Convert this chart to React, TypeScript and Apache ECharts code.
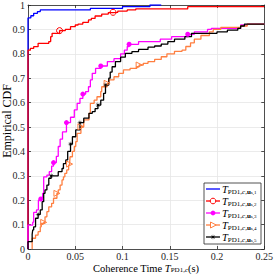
import React, { useEffect, useRef } from "react";
import * as echarts from "echarts";

const xTicks = [0, 0.05, 0.1, 0.15, 0.2, 0.25];
const yTicks = [0, 0.1, 0.2, 0.3, 0.4, 0.5, 0.6, 0.7, 0.8, 0.9, 1];

const seriesNames = ["u1", "u2", "u3", "u4", "u5"];
const legendIdx = ["1", "2", "3", "4", "5"];

// Series 1 (blue)
const s1X = [0, 0, 0.003, 0.006, 0.01, 0.013, 0.066, 0.1, 0.129, 0.141];
const s1Y = [0, 0.947, 0.956, 0.966, 0.973, 0.98, 0.986, 0.993, 1.0, 1.0];
const s1Marks: number[] = [];

// Series 2 (red)
const s2X = [0, 0, 0.0025, 0.006, 0.0107, 0.022, 0.024, 0.0255, 0.0334, 0.0395, 0.045, 0.05, 0.053, 0.058, 0.064, 0.067, 0.071, 0.078, 0.085, 0.09, 0.095, 0.105, 0.114, 0.169, 0.25];
const s2Y = [0, 0.815, 0.822, 0.829, 0.843, 0.85, 0.87, 0.884, 0.895, 0.9, 0.911, 0.918, 0.922, 0.929, 0.939, 0.945, 0.955, 0.963, 0.969, 0.97, 0.975, 0.98, 0.984, 0.993, 0.993];
const s2Marks = [0.0334, 0.09];

// Series 3 (magenta)
const s3X = [0, 0, 0.005, 0.006, 0.009, 0.011, 0.0135, 0.0155, 0.0166, 0.02, 0.0225, 0.025, 0.027, 0.03, 0.032, 0.034, 0.0365, 0.0407, 0.045, 0.049, 0.052, 0.055, 0.058, 0.061, 0.064, 0.066, 0.068, 0.0715, 0.077, 0.084, 0.091, 0.098, 0.102, 0.105, 0.107, 0.117, 0.14, 0.152, 0.169, 0.176, 0.19, 0.194, 0.225, 0.232, 0.25];
const s3Y = [0, 0.098, 0.11, 0.15, 0.16, 0.2, 0.205, 0.228, 0.296, 0.303, 0.317, 0.34, 0.354, 0.38, 0.42, 0.45, 0.48, 0.518, 0.54, 0.57, 0.597, 0.617, 0.635, 0.645, 0.665, 0.693, 0.72, 0.74, 0.75, 0.768, 0.78, 0.8, 0.815, 0.83, 0.839, 0.85, 0.86, 0.87, 0.88, 0.89, 0.9, 0.904, 0.918, 0.922, 0.922];
const s3Marks = [0.0135, 0.027, 0.0407, 0.058, 0.077, 0.107, 0.169];

// Series 4 (orange)
const s4X = [0.0044, 0.0044, 0.008, 0.0107, 0.013, 0.014, 0.0166, 0.018, 0.02, 0.022, 0.025, 0.027, 0.0306, 0.032, 0.034, 0.036, 0.0375, 0.039, 0.041, 0.043, 0.044, 0.0445, 0.047, 0.049, 0.0505, 0.052, 0.056, 0.059, 0.0645, 0.066, 0.07, 0.073, 0.077, 0.078, 0.0837, 0.0855, 0.091, 0.096, 0.101, 0.108, 0.115, 0.1176, 0.122, 0.127, 0.134, 0.141, 0.147, 0.155, 0.163, 0.167, 0.172, 0.176, 0.183, 0.192, 0.196, 0.204, 0.225, 0.232, 0.25];
const s4Y = [0, 0.044, 0.057, 0.071, 0.091, 0.105, 0.109, 0.132, 0.153, 0.173, 0.187, 0.208, 0.228, 0.242, 0.262, 0.283, 0.296, 0.31, 0.324, 0.344, 0.348, 0.378, 0.4, 0.42, 0.44, 0.474, 0.501, 0.529, 0.556, 0.597, 0.61, 0.624, 0.645, 0.665, 0.679, 0.693, 0.706, 0.72, 0.734, 0.74, 0.747, 0.754, 0.761, 0.768, 0.777, 0.788, 0.8, 0.81, 0.815, 0.83, 0.845, 0.86, 0.875, 0.89, 0.9, 0.908, 0.914, 0.922, 0.922];
const s4Marks = [0.0166, 0.0306, 0.044, 0.056, 0.0837, 0.1176];

// Series 5 (black)
const s5X = [0, 0, 0.0044, 0.005, 0.006, 0.008, 0.0107, 0.013, 0.015, 0.0166, 0.018, 0.02, 0.022, 0.0245, 0.032, 0.036, 0.0375, 0.04, 0.042, 0.045, 0.047, 0.0505, 0.055, 0.059, 0.0645, 0.068, 0.071, 0.074, 0.077, 0.08, 0.082, 0.0855, 0.087, 0.089, 0.0925, 0.098, 0.103, 0.11, 0.117, 0.127, 0.134, 0.141, 0.148, 0.155, 0.166, 0.173, 0.2, 0.211, 0.222, 0.225, 0.229, 0.25];
const s5Y = [0, 0.03, 0.06, 0.078, 0.091, 0.126, 0.142, 0.16, 0.194, 0.228, 0.242, 0.262, 0.29, 0.3, 0.317, 0.33, 0.35, 0.365, 0.4, 0.43, 0.46, 0.488, 0.518, 0.536, 0.556, 0.563, 0.575, 0.59, 0.61, 0.638, 0.672, 0.7, 0.725, 0.747, 0.768, 0.786, 0.802, 0.809, 0.818, 0.827, 0.832, 0.84, 0.85, 0.86, 0.87, 0.884, 0.89, 0.897, 0.904, 0.914, 0.922, 0.922];
const s5Marks = [0.0107, 0.0245, 0.045, 0.055, 0.074, 0.082];

const SERIF = "'Liberation Serif', 'Times New Roman', serif";
const AXIS_COLOR = "#262626";
const COLORS = ["#0000ff", "#ff0000", "#ff00ff", "#ff7f40", "#000000"];

function starPoints(cx: number, cy: number, R: number, r: number) {
  return Array.from({ length: 16 }, (_, k) => {
    const a = (k * Math.PI) / 8;
    const rr = k % 2 === 0 ? R : r;
    return [cx + rr * Math.sin(a), cy - rr * Math.cos(a)];
  });
}

const starPath =
  "path://M" +
  starPoints(5, 5, 5, 1.3)
    .map((p) => p[0].toFixed(2) + "," + p[1].toFixed(2))
    .join("L") +
  "Z";

function buildData(xs: number[], ys: number[], marks: number[]) {
  return xs.map((x, i) =>
    marks.indexOf(x) >= 0 ? { value: [x, ys[i]] } : { value: [x, ys[i]], symbol: "none" }
  );
}

const legendRich = {
  t: { fontFamily: SERIF, fontStyle: "italic", fontSize: 10.5, lineHeight: 12, fill: "#000" },
  s: { fontFamily: SERIF, fontSize: 7, lineHeight: 7, verticalAlign: "bottom", fill: "#000" },
  si: { fontFamily: SERIF, fontSize: 7, fontStyle: "italic", lineHeight: 7, verticalAlign: "bottom", fill: "#000" },
  b: { fontFamily: SERIF, fontSize: 7, fontWeight: "bold", lineHeight: 7, verticalAlign: "bottom", fill: "#000" },
  ss: { fontFamily: SERIF, fontSize: 5, lineHeight: 4, verticalAlign: "bottom", fill: "#000" },
};

export default function App() {
  const ref = useRef<HTMLDivElement>(null);
  useEffect(() => {
    if (!ref.current) return;
    const chart = echarts.init(ref.current, undefined, { renderer: "svg" });
    const fmt = (v: number) => String(+v.toFixed(2));
    const commonAxis = (pos: string, labels: boolean, isX: boolean) => ({
      type: "value",
      min: 0,
      max: isX ? 0.25 : 1,
      interval: isX ? 0.05 : 0.1,
      position: pos,
      axisLine: { show: true, onZero: false, lineStyle: { color: AXIS_COLOR, width: 0.8 } },
      axisTick: { show: true, inside: true, length: 3, lineStyle: { color: AXIS_COLOR, width: 0.8 } },
      axisLabel: {
        show: labels,
        margin: isX ? 2 : 3,
        fontFamily: SERIF,
        fontSize: 10,
        color: AXIS_COLOR,
        formatter: fmt,
      },
      splitLine: { show: labels, lineStyle: { color: "#e6e6e6", width: 0.8 } },
    });

    const mk = (
      i: number,
      xs: number[],
      ys: number[],
      marks: number[],
      symbol: string,
      size: number,
      itemStyle: any,
      rotate = 0
    ) => ({
      name: seriesNames[i],
      type: "line",
      step: "end",
      data: buildData(xs, ys, marks),
      showSymbol: true,
      showAllSymbol: true,
      symbol,
      symbolSize: size,
      symbolRotate: rotate,
      lineStyle: { color: COLORS[i], width: 1.3 },
      itemStyle,
      emphasis: { disabled: true },
      silent: true,
      z: 3,
    });

    const series = [
      mk(0, s1X, s1Y, s1Marks, "circle", 5, { color: COLORS[0] }),
      mk(1, s2X, s2Y, s2Marks, "circle", 6, {
        color: "rgba(255,255,255,0)",
        borderColor: COLORS[1],
        borderWidth: 1,
      }),
      mk(2, s3X, s3Y, s3Marks, "circle", 5, { color: COLORS[2] }),
      mk(
        3,
        s4X,
        s4Y,
        s4Marks,
        "triangle",
        6,
        { color: "rgba(255,255,255,0)", borderColor: COLORS[3], borderWidth: 1 },
        -90
      ),
      mk(4, s5X, s5Y, s5Marks, starPath, 6, { color: COLORS[4] }),
    ];

    // Hand-drawn legend box
    const LX = 204, LY = 183, LW = 57, LH = 61, ROW = 12;
    const legendEls: any[] = [
      {
        type: "rect",
        shape: { x: LX, y: LY, width: LW, height: LH },
        style: { fill: "#ffffff", stroke: AXIS_COLOR, lineWidth: 0.8 },
        z: 100,
      },
    ];
    legendIdx.forEach((k, i) => {
      const cy = LY + 6 + i * ROW;
      const c = COLORS[i];
      legendEls.push({
        type: "line",
        shape: { x1: 206, y1: cy, x2: 220, y2: cy },
        style: { stroke: c, lineWidth: 1.3 },
        z: 101,
      });
      if (i === 1) {
        legendEls.push({ type: "circle", shape: { cx: 213, cy, r: 2.8 }, style: { fill: "#fff", stroke: c, lineWidth: 1 }, z: 102 });
      } else if (i === 2) {
        legendEls.push({ type: "circle", shape: { cx: 213, cy, r: 2.4 }, style: { fill: c }, z: 102 });
      } else if (i === 3) {
        legendEls.push({
          type: "polygon",
          shape: { points: [[210.5, cy - 3], [216.2, cy], [210.5, cy + 3]] },
          style: { fill: "#fff", stroke: c, lineWidth: 1 },
          z: 102,
        });
      } else if (i === 4) {
        legendEls.push({ type: "polygon", shape: { points: starPoints(213, cy, 3, 0.8) }, style: { fill: c }, z: 102 });
      }
      legendEls.push({
        type: "text",
        x: 222,
        y: cy,
        style: {
          text: "{t|T}{s|PD1,}{si|c}{s|,}{b|u}{ss|s," + k + "}",
          textVerticalAlign: "middle",
          textAlign: "left",
          rich: legendRich,
        },
        z: 102,
      });
    });

    chart.setOption({
      animation: false,
      backgroundColor: "#ffffff",
      grid: { left: 28, right: 9, top: 5, bottom: 27, containLabel: false },
      xAxis: [commonAxis("bottom", true, true), commonAxis("top", false, true)],
      yAxis: [commonAxis("left", true, false), commonAxis("right", false, false)],
      graphic: [
        {
          type: "text",
          x: 7,
          y: 121,
          rotation: Math.PI / 2,
          style: {
            text: "Empirical CDF",
            fontFamily: SERIF,
            fontSize: 12,
            fill: "#000",
            textAlign: "center",
            textVerticalAlign: "middle",
          },
        },
        {
          type: "text",
          x: 146,
          y: 268,
          style: {
            text: "{a|Coherence Time }{t|T}{s|PD1,}{si|c}{a|(s)}",
            textAlign: "center",
            textVerticalAlign: "middle",
            rich: {
              a: { fontFamily: SERIF, fontSize: 10.5, lineHeight: 10, fill: "#000" },
              t: { fontFamily: SERIF, fontSize: 10.5, fontStyle: "italic", lineHeight: 10, fill: "#000" },
              s: { fontFamily: SERIF, fontSize: 7, lineHeight: 6, verticalAlign: "bottom", fill: "#000" },
              si: { fontFamily: SERIF, fontSize: 7, fontStyle: "italic", lineHeight: 6, verticalAlign: "bottom", fill: "#000" },
            },
          },
        },
        ...legendEls,
      ],
      series,
    });
    return () => chart.dispose();
  }, []);
  return <div ref={ref} style={{ position: "fixed", left: 0, top: 0, width: 276, height: 276 }} />;
}
